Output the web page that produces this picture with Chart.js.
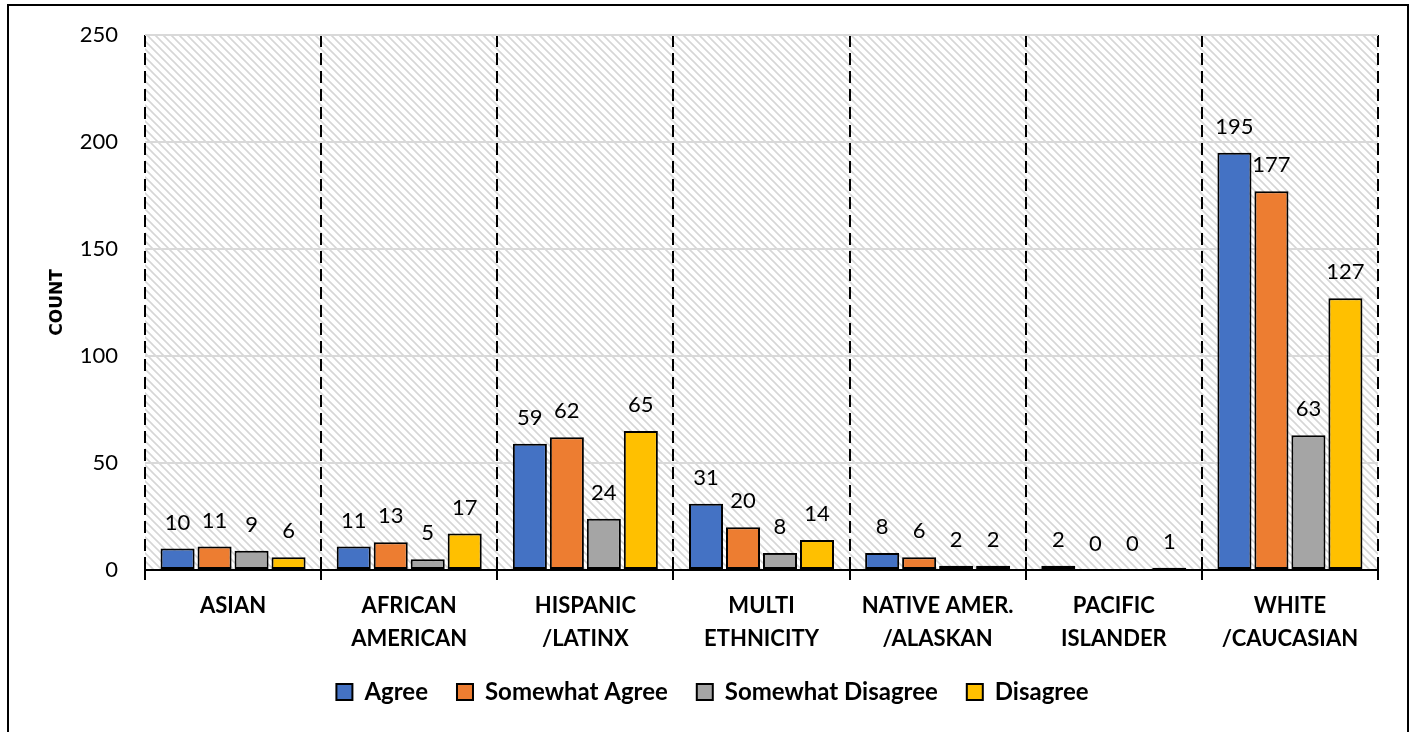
<!DOCTYPE html>
<html>
<head>
<meta charset="utf-8">
<script src="https://cdn.jsdelivr.net/npm/chart.js@4.4.0/dist/chart.umd.min.js"></script>
<style>
html, body { margin: 0; padding: 0; background: #fff; }
</style>
</head>
<body>
<canvas id="ethnicity-chart" width="1414" height="732"></canvas>
<script>
// Responses by ethnicity
var categories = [["ASIAN"], ["AFRICAN", "AMERICAN"], ["HISPANIC", "/LATINX"], ["MULTI", "ETHNICITY"], ["NATIVE AMER.", "/ALASKAN"], ["PACIFIC", "ISLANDER"], ["WHITE", "/CAUCASIAN"]];
var seriesNames = ["Agree", "Somewhat Agree", "Somewhat Disagree", "Disagree"];
var agree = [10, 11, 59, 31, 8, 2, 195];
var somewhatAgree = [11, 13, 62, 20, 6, 0, 177];
var somewhatDisagree = [9, 5, 24, 8, 2, 0, 63];
var disagree = [6, 17, 65, 14, 2, 1, 127];
var yTicks = [0, 50, 100, 150, 200, 250];
var colors = ["#4472C4", "#ED7D31", "#A5A5A5", "#FFC000"];

var canvas = document.getElementById('ethnicity-chart');
var ctx = canvas.getContext('2d');

// light diagonal hatch like the excel pattern fill
function makeHatch() {
    var p = document.createElement('canvas');
    p.width = 8; p.height = 8;
    var c = p.getContext('2d');
    c.fillStyle = '#ffffff';
    c.fillRect(0, 0, 8, 8);
    c.strokeStyle = '#d6d6d6';
    c.lineWidth = 1.6;
    c.beginPath();
    c.moveTo(-1, -1); c.lineTo(9, 9);
    c.moveTo(-1, 7); c.lineTo(1, 9);
    c.moveTo(7, -1); c.lineTo(9, 1);
    c.stroke();
    return ctx.createPattern(p, 'repeat');
}

var hatchBackground = {
    id: 'hatchBackground',
    beforeDraw: function (chart) {
        var a = chart.chartArea;
        var c = chart.ctx;
        c.save();
        c.fillStyle = makeHatch();
        c.fillRect(a.left, a.top, a.right - a.left, a.bottom - a.top);
        c.restore();
    },
    afterDraw: function (chart) {
        var c = chart.ctx;
        c.save();
        c.strokeStyle = '#000';
        c.lineWidth = 2;
        c.strokeRect(8, 5, 1400, 760);
        c.restore();
    }
};

var valueLabels = {
    id: 'valueLabels',
    afterDatasetsDraw: function (chart) {
        var c = chart.ctx;
        c.save();
        c.font = '22px Lato';
        c.fillStyle = '#000';
        c.textAlign = 'center';
        c.textBaseline = 'middle';
        chart.data.datasets.forEach(function (ds, i) {
            chart.getDatasetMeta(i).data.forEach(function (bar, j) {
                c.fillText(ds.data[j], bar.x, bar.y - 26);
            });
        });
        c.restore();
    }
};

var allSeries = [agree, somewhatAgree, somewhatDisagree, disagree];
var datasets = allSeries.map(function (values, i) {
    return {
        label: seriesNames[i],
        data: values,
        backgroundColor: colors[i],
        borderColor: '#000',
        borderWidth: 2,
        borderSkipped: false,
        categoryPercentage: 0.84,
        barPercentage: 0.92
    };
});

var myChart = new Chart(ctx, {
    type: 'bar',
    data: {
        labels: categories,
        datasets: datasets
    },
    options: {
        responsive: false,
        animation: false,
        devicePixelRatio: 1,
        layout: {
            padding: { left: 47, right: 36, top: 35, bottom: 18 }
        },
        plugins: {
            legend: {
                position: 'bottom',
                labels: {
                    boxWidth: 16,
                    boxHeight: 16,
                    padding: 29,
                    color: '#000',
                    font: { family: 'Lato', size: 24, weight: 'bold' }
                }
            },
            tooltip: { enabled: false }
        },
        scales: {
            x: {
                grid: {
                    color: '#000',
                    lineWidth: 2,
                    tickLength: 10,
                    offset: true
                },
                border: {
                    display: true,
                    color: '#000',
                    width: 2,
                    dash: [12, 6]
                },
                ticks: {
                    color: '#000',
                    padding: 9,
                    maxRotation: 0,
                    font: { family: 'Lato', size: 22, weight: 'bold', lineHeight: 1.5 }
                },
                afterFit: function (scale) { scale.height = 81; }
            },
            y: {
                min: 0,
                max: 250,
                afterBuildTicks: function (scale) {
                    scale.ticks = yTicks.map(function (v) { return { value: v }; });
                },
                grid: {
                    color: '#d9d9d9',
                    lineWidth: 2,
                    drawTicks: false
                },
                border: { display: false },
                ticks: {
                    color: '#000',
                    padding: 27,
                    font: { family: 'Lato', size: 22 }
                },
                title: {
                    display: true,
                    text: 'COUNT',
                    color: '#000',
                    padding: 0,
                    font: { family: 'DejaVu Sans', size: 17, weight: 'bold' }
                },
                afterFit: function (scale) {
                    scale.width = 98;
                    scale.paddingTop = 0;
                    scale.paddingBottom = 0;
                }
            }
        }
    },
    plugins: [hatchBackground, valueLabels]
});
</script>
</body>
</html>
